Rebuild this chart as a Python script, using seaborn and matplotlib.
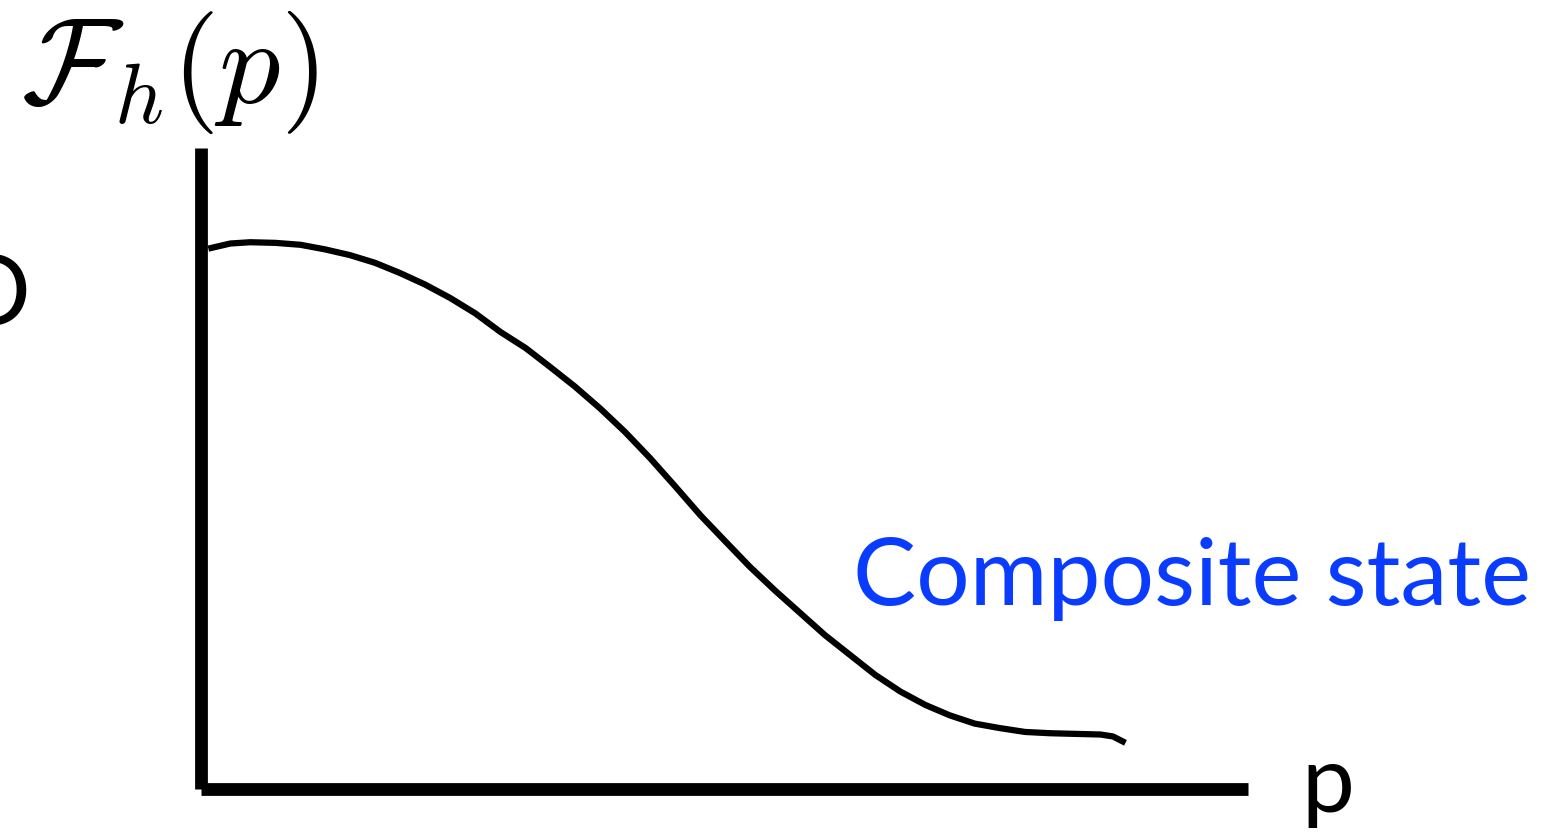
import numpy as np
import pandas as pd
import seaborn as sns
import matplotlib.pyplot as plt

# curve, p and F as fractions of the axes
p_vals = [0.007, 0.028, 0.047, 0.071, 0.095, 0.118, 0.142, 0.166, 0.190, 0.214,
          0.238, 0.262, 0.286, 0.310, 0.333, 0.357, 0.381, 0.405, 0.429, 0.453,
          0.477, 0.501, 0.524, 0.548, 0.572, 0.596, 0.620, 0.644, 0.668, 0.692,
          0.715, 0.739, 0.763, 0.787, 0.811, 0.835, 0.859, 0.871, 0.883]
f_vals = [0.843, 0.851, 0.853, 0.852, 0.849, 0.842, 0.833, 0.821, 0.805, 0.787,
          0.766, 0.742, 0.713, 0.688, 0.659, 0.628, 0.594, 0.557, 0.516, 0.472,
          0.427, 0.386, 0.347, 0.310, 0.275, 0.240, 0.209, 0.178, 0.152, 0.131,
          0.115, 0.102, 0.095, 0.089, 0.087, 0.086, 0.085, 0.082, 0.072]

ylabel = r'$\mathcal{F}_h(p)$'
xlabel = 'p'
curve_label = 'Composite state'
cut_letter = 'O'

data = pd.DataFrame({'p': p_vals, 'F': f_vals})

sns.set_style('white')
plt.rcParams['mathtext.fontset'] = 'cm'

W, H = 1561, 836
fig = plt.figure(figsize=(W / 100, H / 100), dpi=100)
ax = fig.add_axes([201 / W, (H - 789) / H, (1248 - 201) / W, (789 - 148) / H])

sns.lineplot(x='p', y='F', data=data, sort=False, color='black',
             linewidth=4.5, ax=ax)
for l in ax.lines:
    l.set_solid_joinstyle('round')
    l.set_solid_capstyle('butt')

ax.set_xlim(0, 1)
ax.set_ylim(0, 1)
ax.set_xticks([])
ax.set_yticks([])
ax.set_xlabel('')
ax.set_ylabel('')
for side in ['top', 'right']:
    ax.spines[side].set_visible(False)
for side in ['left', 'bottom']:
    ax.spines[side].set_linewidth(9.2)
    ax.spines[side].set_color('black')
    ax.spines[side].set_capstyle('butt')

blue = '#0A3CFF'
font = ['Lato', 'DejaVu Sans']
fig.text(853 / W, 1 - 605 / H, curve_label, color=blue, fontsize=68,
         family=font, ha='left', va='baseline')
fig.text(1301 / W, 1 - 812 / H, xlabel, color='black', fontsize=68,
         family=font, ha='left', va='baseline')
fig.text(30 / W, 1 - 325 / H, cut_letter, color='black', fontsize=70,
         family=font, ha='right', va='baseline')
fig.text(21 / W, 1 - 103 / H, ylabel, color='black', fontsize=88,
         ha='left', va='baseline')

fig.savefig('out.png', dpi=100)
